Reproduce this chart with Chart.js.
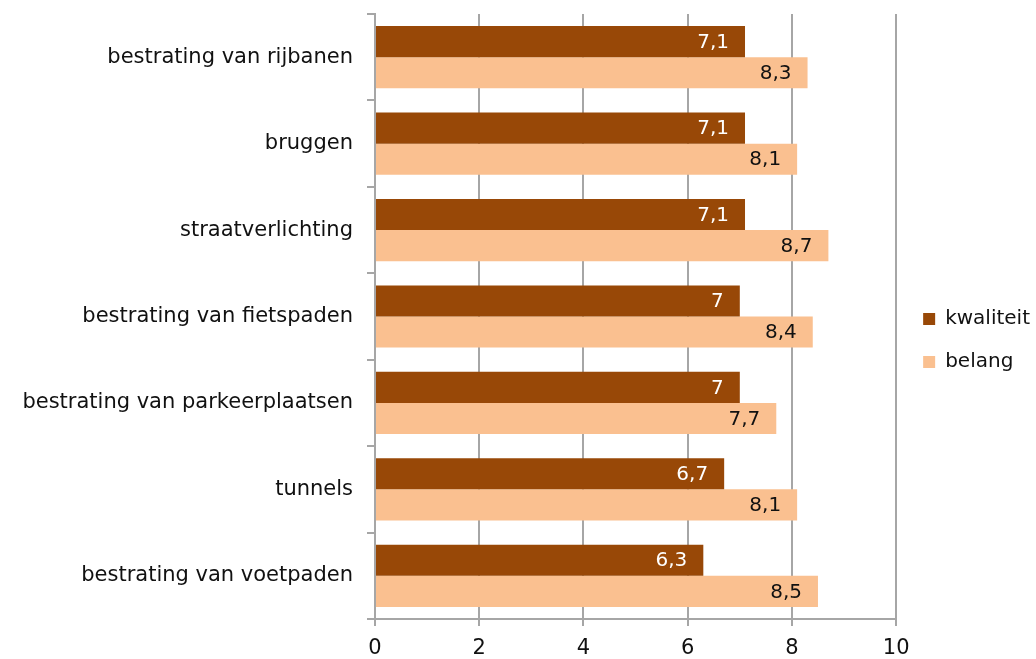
<!DOCTYPE html>
<html>
<head>
<meta charset="utf-8">
<script src="https://cdn.jsdelivr.net/npm/chart.js@4/dist/chart.umd.min.js"></script>
<style>
  html, body { margin: 0; padding: 0; background: #fff; }
  #wrap { width: 1036px; height: 659px; }
</style>
</head>
<body>
<div id="wrap"><canvas id="barChart"></canvas></div>
<script>
const categories = [
  'bestrating van rijbanen',
  'bruggen',
  'straatverlichting',
  'bestrating van fietspaden',
  'bestrating van parkeerplaatsen',
  'tunnels',
  'bestrating van voetpaden'
];
const kwaliteit = [7.1, 7.1, 7.1, 7.0, 7.0, 6.7, 6.3];
const belang = [8.3, 8.1, 8.7, 8.4, 7.7, 8.1, 8.5];
const xTicks = [0, 2, 4, 6, 8, 10];

const FONT = 'DejaVu Sans, Verdana, sans-serif';

// value labels inside the end of each bar, Dutch decimal comma
const valueLabels = {
  id: 'valueLabels',
  afterDatasetsDraw(chart) {
    const ctx = chart.ctx;
    ctx.save();
    ctx.font = '20px ' + FONT;
    ctx.textAlign = 'right';
    ctx.textBaseline = 'middle';
    chart.data.datasets.forEach((ds, i) => {
      chart.getDatasetMeta(i).data.forEach((bar, j) => {
        const v = ds.data[j];
        const txt = Number.isInteger(v) ? String(v) : v.toFixed(1).replace('.', ',');
        ctx.fillStyle = i === 0 ? '#ffffff' : '#111111';
        ctx.fillText(txt, bar.x - 16, bar.y + 1);
      });
    });
    ctx.restore();
  }
};

// push the legend a bit further away from the plot, like the original
const legendShift = {
  id: 'legendShift',
  afterLayout(chart) {
    chart.legend.left += 4;
    chart.legend.right += 4;
    chart.legend.top -= 2;
    chart.legend.bottom -= 2;
  }
};

const barChart = new Chart(document.getElementById('barChart'), {
  type: 'bar',
  data: {
    labels: categories,
    datasets: [{
      label: 'kwaliteit',
      data: kwaliteit,
      backgroundColor: '#984807',
    }, {
      label: 'belang',
      data: belang,
      backgroundColor: '#FAC090',
    }],
  },
  options: {
    indexAxis: 'y',
    responsive: true,
    maintainAspectRatio: false,
    animation: false,
    categoryPercentage: 0.72,
    barPercentage: 1.0,
    layout: { autoPadding: false, padding: { top: 14, right: 0, bottom: -12, left: 0 } },
    plugins: {
      title: { display: false },
      tooltip: { enabled: false },
      legend: {
        position: 'right',
        labels: {
          font: { family: FONT, size: 20 },
          color: '#111',
          boxWidth: 12,
          boxHeight: 12,
          padding: 23,
        },
      },
    },
    scales: {
      x: {
        min: 0,
        max: 10,
        afterBuildTicks: (axis) => { axis.ticks = xTicks.map(v => ({ value: v })); },
        afterFit: (axis) => { axis.paddingLeft = 0; axis.paddingRight = 0; },
        grid: { color: '#a6a6a6', lineWidth: 2, tickLength: 7 },
        border: { color: '#a6a6a6', width: 2 },
        ticks: {
          font: { family: FONT, size: 21, lineHeight: 1 },
          color: '#111',
          padding: 12,
        },
      },
      y: {
        afterFit: (axis) => { axis.width = 375; axis.paddingTop = 0; axis.paddingBottom = 0; },
        grid: { offset: true, drawOnChartArea: false, color: '#a6a6a6', lineWidth: 2, tickLength: 8 },
        border: { color: '#a6a6a6', width: 2 },
        ticks: {
          font: { family: FONT, size: 21 },
          color: '#111',
          padding: 14,
        },
      },
    },
  },
  plugins: [valueLabels, legendShift],
});
</script>
</body>
</html>
